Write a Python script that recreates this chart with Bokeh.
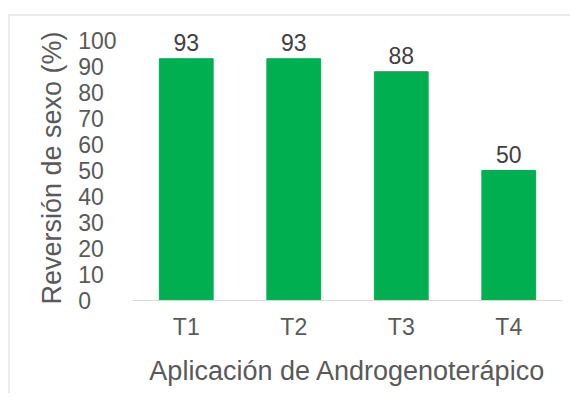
from bokeh.plotting import figure
from bokeh.models import ColumnDataSource, FixedTicker, Range1d, FactorRange
from bokeh.core.properties import value
from bokeh.embed import file_html
from bokeh.resources import INLINE

categories = ["T1", "T2", "T3", "T4"]
reversion = [93, 93, 88, 50]
y_ticks = [0, 10, 20, 30, 40, 50, 60, 70, 80, 90, 100]

src = ColumnDataSource(dict(cat=categories, val=reversion, lab=[str(v) for v in reversion]))

FONT = "Liberation Sans"
GREY = "#595959"
FIGSP = "\u2007"  # digit-width space, keeps the tick labels left-aligned

p = figure(
    x_range=FactorRange(*categories, range_padding=0),
    y_range=Range1d(0, 107.7),
    width=562, height=379,
    output_backend="svg", toolbar_location=None,
    min_border_left=122, min_border_right=10,
    min_border_top=4, min_border_bottom=95,
    margin=(14, 0, 0, 8),
    styles={"border-top": "2px solid #ebebeb", "border-left": "2px solid #ebebeb"},
)
p.outline_line_color = None
p.xgrid.grid_line_color = None
p.ygrid.grid_line_color = None

p.vbar(x="cat", top="val", width=0.5, source=src, color="#00B050")
p.text(x="cat", y="val", text="lab", source=src, text_align="center",
       text_baseline="bottom", y_offset=-8, text_font=value(FONT),
       text_font_size="23px", text_color="#404040")

# y axis
ya = p.yaxis[0]
ya.ticker = FixedTicker(ticks=y_ticks)
ya.major_label_overrides = {t: str(t) + FIGSP * (3 - len(str(t))) for t in y_ticks}
ya.axis_line_color = None
ya.major_tick_line_color = None
ya.minor_tick_line_color = None
ya.major_label_standoff = 10
ya.major_label_text_font = FONT
ya.major_label_text_font_size = "23px"
ya.major_label_text_color = GREY
ya.axis_label = "Reversión de sexo (%)" + FIGSP
ya.axis_label_text_font = FONT
ya.axis_label_text_font_size = "27px"
ya.axis_label_text_font_style = "normal"
ya.axis_label_text_color = GREY
ya.axis_label_standoff = 8

# x axis
xa = p.xaxis[0]
xa.axis_line_color = "#d9d9d9"
xa.axis_line_width = 1
xa.major_tick_line_color = None
xa.minor_tick_line_color = None
xa.major_label_standoff = 7
xa.major_label_text_font = FONT
xa.major_label_text_font_size = "23px"
xa.major_label_text_color = GREY
xa.axis_label = "Aplicación de Androgenoterápico"
xa.axis_label_text_font = FONT
xa.axis_label_text_font_size = "27px"
xa.axis_label_text_font_style = "normal"
xa.axis_label_text_color = GREY
xa.axis_label_standoff = 13

open("out.html", "w").write(file_html(p, INLINE))
